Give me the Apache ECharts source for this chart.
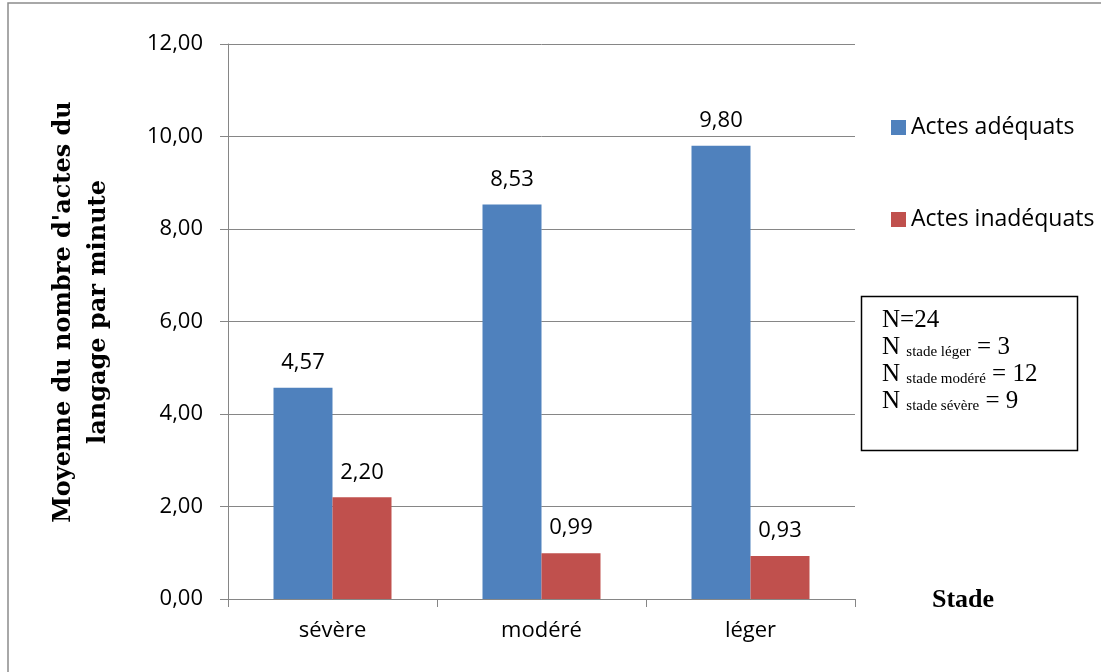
<!DOCTYPE html>
<html><head><meta charset="utf-8">
<script src="https://cdn.jsdelivr.net/npm/echarts@6/dist/echarts.min.js"></script>
<style>html,body{margin:0;padding:0;background:#fff}#c{width:1101px;height:672px}</style>
</head><body><div id="c"></div>
<script>
const categories = ['sévère', 'modéré', 'léger'];
const adequats = [4.57, 8.53, 9.80];
const inadequats = [2.20, 0.99, 0.93];
const seriesNames = ['Actes adéquats', 'Actes inadéquats'];
const yTitle = ["Moyenne du nombre d'actes du", 'langage par minute'];
const xTitle = 'Stade';
const noteLines = [['N=24'], ['N ', 'stade léger', ' = 3'], ['N ', 'stade modéré', ' = 12'], ['N ', 'stade sévère', ' = 9']];

const fmt = v => v.toFixed(2).replace('.', ',');
const chart = echarts.init(document.getElementById('c'), null, {renderer: 'canvas'});
const axisColor = '#868686';
const labelFont = {fontFamily: 'Open Sans', fontSize: 22, color: '#000'};

const noteText = noteLines.map(l => l.length === 1 ? '{n|' + l[0] + '}' : '{n|' + l[0] + '}{s|' + l[1] + '}{n|' + l[2] + '}').join('\n');

chart.setOption({
  animation: false,
  grid: {left: 228, right: 246, top: 44, bottom: 73},
  legend: {
    orient: 'vertical', left: 886, top: 111, itemGap: 69, itemWidth: 15, itemHeight: 15,
    icon: 'rect',
    textStyle: {fontFamily: 'Open Sans', fontSize: 23, color: '#000'},
    data: seriesNames
  },
  xAxis: {
    type: 'category', data: categories,
    axisLine: {lineStyle: {color: axisColor, width: 1}},
    axisTick: {show: true, length: 8, lineStyle: {color: axisColor}},
    axisLabel: {fontFamily: 'Open Sans', fontSize: 22, color: '#000', margin: 21}
  },
  yAxis: {
    type: 'value', min: 0, max: 12, interval: 2,
    axisLine: {show: true, lineStyle: {color: axisColor}},
    axisTick: {show: true, length: 8, lineStyle: {color: axisColor}},
    splitLine: {lineStyle: {color: axisColor, width: 1}},
    axisLabel: {fontFamily: 'Open Sans', fontSize: 22, color: '#000', margin: 25, formatter: v => fmt(v)}
  },
  series: [
    {name: seriesNames[0], type: 'bar', data: adequats, barWidth: 59, barGap: '0%',
     itemStyle: {color: '#4f81bd'},
     label: {show: true, position: 'top', distance: 14, formatter: p => fmt(p.value), ...labelFont}},
    {name: seriesNames[1], type: 'bar', data: inadequats, barWidth: 59,
     itemStyle: {color: '#c0504d'},
     label: {show: true, position: 'top', distance: 14, formatter: p => fmt(p.value), ...labelFont}}
  ],
  graphic: [
    {type: 'rect', shape: {x: 8, y: 3, width: 1110, height: 690}, style: {fill: 'none', stroke: '#8c8c8c', lineWidth: 1.5}, silent: true},
    {type: 'text', x: 81, y: 312, rotation: Math.PI / 2,
     style: {text: yTitle.join('\n'), fontFamily: 'DejaVu Serif', fontWeight: 'bold', fontSize: 24, fill: '#000', align: 'center', verticalAlign: 'middle', lineHeight: 35}},
    {type: 'text', x: 932, y: 587, style: {text: xTitle, fontFamily: 'Liberation Serif', fontWeight: 'bold', fontSize: 26, fill: '#000'}},
    {type: 'rect', shape: {x: 861.5, y: 296.5, width: 216, height: 154}, style: {fill: '#fff', stroke: '#000', lineWidth: 1.5}},
    {type: 'text', x: 882, y: 307, style: {
      text: noteText,
      rich: {n: {fontFamily: 'Liberation Serif', fontSize: 25, fill: '#000', lineHeight: 27},
             s: {fontFamily: 'Liberation Serif', fontSize: 15, fill: '#000', lineHeight: 27, padding: [10, 0, 0, 0]}}
    }}
  ]
});
</script></body></html>
